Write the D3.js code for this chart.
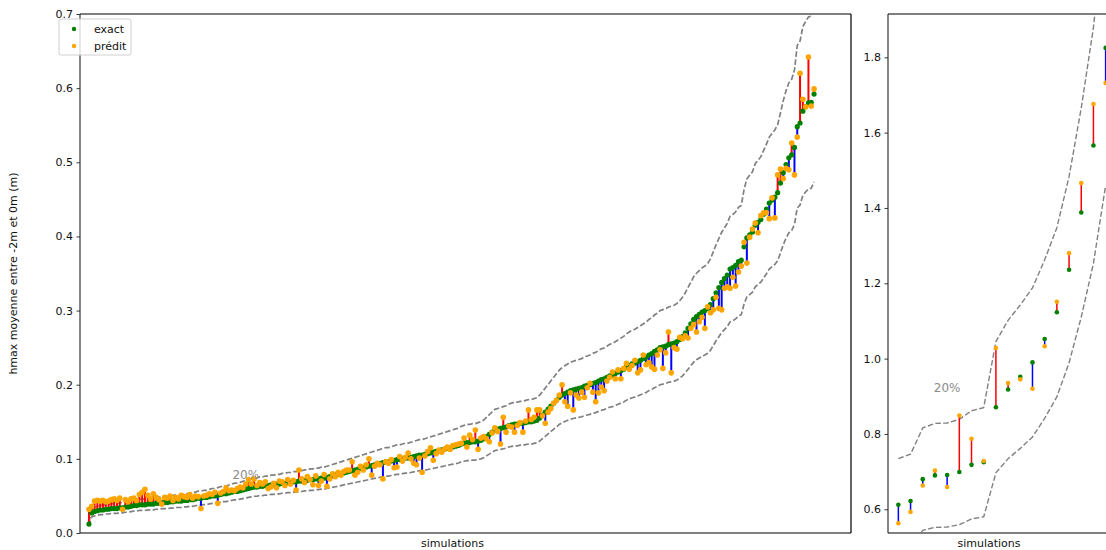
<!DOCTYPE html>
<html>
<head>
<meta charset="utf-8">
<script src="https://cdn.jsdelivr.net/npm/d3@7"></script>
<style>
  html, body { margin: 0; padding: 0; background: #fff; }
  svg { display: block; font-family: "DejaVu Sans", sans-serif; }
</style>
</head>
<body>
<svg id="chart" width="1106" height="550"></svg>
<script>
// Simulations sorted by exact value: main range (left panel)
const exactMain = [
  0.012,0.027,0.029,0.030,
  0.031,0.031,0.032,0.032,0.033,0.033,0.033,0.034,0.034,0.035,0.035,0.036,
  0.037,0.037,0.038,0.038,0.038,0.039,0.039,0.039,0.040,0.040,0.041,0.041,0.041,0.042,0.042,0.043,0.043,0.043,0.044,0.044,0.045,0.045,0.046,0.047,
  0.047,0.048,0.048,0.049,0.050,0.050,0.051,0.052,0.053,0.053,0.054,0.055,0.056,0.056,0.057,0.058,0.059,0.060,0.061,
  0.062,0.062,0.063,0.063,0.064,0.064,0.065,0.065,0.066,0.066,0.067,0.067,0.068,0.068,0.069,0.069,0.070,0.070,0.071,0.071,0.072,0.072,0.073,0.073,0.074,0.074,0.075,0.076,
  0.077,0.078,0.079,0.080,0.081,0.082,0.083,0.084,0.085,0.086,0.087,0.088,0.089,
  0.090,0.091,0.092,0.093,0.094,0.095,0.096,0.096,0.097,0.098,0.099,
  0.099,0.100,0.101,0.101,0.102,0.103,0.104,0.105,0.105,0.106,0.107,0.108,
  0.109,0.110,0.111,0.112,0.113,0.114,0.115,0.116,0.117,0.118,0.120,
  0.121,0.122,0.122,0.123,0.123,0.124,
  0.125,0.127,0.130,0.133,0.136,0.139,
  0.140,0.141,0.142,0.143,0.145,0.146,
  0.147,0.147,0.148,0.148,0.149,0.150,0.150,0.151,0.152,
  0.155,0.159,0.163,0.167,0.171,0.175,0.179,0.183,
  0.186,0.188,0.190,0.192,0.193,0.194,0.195,0.196,0.198,0.199,0.200,0.202,
  0.203,0.205,0.207,0.208,0.210,0.212,0.213,0.215,0.217,0.219,0.221,0.224,
  0.226,0.228,0.229,0.231,0.233,0.235,0.237,0.240,0.242,0.245,0.247,0.250,
  0.251,0.252,0.254,0.255,0.256,0.258,0.261,0.265,0.270,0.276,
  0.282,0.288,0.292,0.295,0.298,0.300,0.303,
  0.308,0.316,0.324,0.331,0.338,
  0.343,0.348,0.356,0.358,0.361,0.366,0.368,
  0.386,0.398,0.402,0.406,0.415,0.419,0.423,0.430,0.437,0.445,0.449,0.453,
  0.459,0.472,0.486,0.497,0.506,0.510,0.520,
  0.548,0.553,0.569,0.575,0.580,0.581,0.592
];

const predMain = [
  0.032,0.036,0.043,0.044,
  0.043,0.044,0.042,0.043,0.045,0.046,0.044,0.047,0.032,0.045,0.042,0.046,
  0.047,0.044,0.052,0.055,0.059,0.051,0.046,0.053,0.048,0.045,0.039,0.048,0.047,0.050,0.044,0.048,0.046,0.051,0.049,0.048,0.052,0.047,0.050,0.049,
  0.033,0.050,0.051,0.053,0.052,0.055,0.040,0.054,0.056,0.061,0.057,0.058,0.057,0.060,0.062,0.061,0.066,0.072,0.066,
  0.073,0.064,0.068,0.066,0.069,0.060,0.062,0.067,0.061,0.070,0.069,0.064,0.072,0.066,0.071,0.058,0.085,0.073,0.068,0.076,0.072,0.065,0.077,0.064,0.070,0.079,0.063,0.073,
  0.080,0.076,0.082,0.078,0.083,0.085,0.085,0.096,0.078,0.082,0.090,0.085,0.092,
  0.100,0.078,0.090,0.094,0.092,0.073,0.096,0.094,0.099,0.088,0.089,
  0.103,0.097,0.102,0.108,0.100,0.094,0.092,0.101,0.082,0.104,0.110,0.115,
  0.098,0.107,0.112,0.109,0.113,0.116,0.113,0.118,0.119,0.120,0.121,
  0.128,0.116,0.132,0.126,0.139,0.113,
  0.128,0.130,0.127,0.123,0.135,0.142,
  0.137,0.120,0.156,0.136,0.144,0.143,
  0.136,0.145,0.149,0.136,0.151,0.166,0.153,0.156,0.166,
  0.166,0.158,0.148,0.163,0.168,0.175,0.179,0.186,
  0.200,0.177,0.171,0.189,0.166,0.186,0.182,0.190,0.183,0.196,0.202,0.190,
  0.177,0.189,0.197,0.192,0.205,0.210,0.217,0.208,0.220,0.208,0.222,0.229,
  0.221,0.226,0.233,0.216,0.220,0.240,0.227,0.230,0.224,0.221,0.240,0.247,
  0.222,0.243,0.271,0.216,0.250,0.248,0.264,0.262,0.266,0.263,
  0.276,0.281,0.271,0.285,0.291,0.276,0.305,
  0.297,0.301,0.318,0.303,0.301,
  0.330,0.332,0.330,0.345,0.333,0.352,0.360,
  0.392,0.364,0.399,0.410,0.418,0.405,0.428,0.432,0.432,0.424,0.452,0.425,
  0.483,0.491,0.478,0.492,0.490,0.526,0.483,
  0.534,0.620,0.585,0.575,0.642,0.576,0.599
];

// Highest simulations (right panel)
const exactHigh = [0.612,0.622,0.680,0.690,0.691,0.699,0.718,0.725,0.871,0.918,0.952,0.990,1.052,1.123,1.236,1.388,1.566,1.825];
const predHigh  = [0.563,0.593,0.663,0.703,0.659,0.849,0.787,0.728,1.028,0.935,0.945,0.920,1.033,1.151,1.280,1.466,1.676,1.732];

const ticksMain = [0.0,0.1,0.2,0.3,0.4,0.5,0.6,0.7];
const ticksHigh = [0.6,0.8,1.0,1.2,1.4,1.6,1.8];
const bandFactor = 0.2;           // ±20 % envelope around the exact value
const seriesNames = ["exact", "prédit"];

const svg = d3.select("#chart");
const defs = svg.append("defs");

function drawPanel(cfg) {
  const { exact, pred, x, y, ticks, clipId, rExact, rPred, lw, dash, dashW, label, labelPos, yTitle } = cfg;
  const [x0, x1] = x.range();
  const [yb, yt] = y.range();

  defs.append("clipPath").attr("id", clipId)
    .append("rect").attr("x", x0).attr("y", yt).attr("width", x1 - x0).attr("height", yb - yt);

  const g = svg.append("g");
  const plot = g.append("g").attr("clip-path", `url(#${clipId})`);

  const idx = d3.range(exact.length);

  // ±20 % dashed envelope
  const upper = d3.line().x(i => x(i)).y(i => y(exact[i] * (1 + bandFactor)));
  const lower = d3.line().x(i => x(i)).y(i => y(exact[i] * (1 - bandFactor)));
  [upper, lower].forEach(fn => {
    plot.append("path").attr("d", fn(idx))
      .attr("fill", "none").attr("stroke", "#808080")
      .attr("stroke-width", dashW).attr("stroke-dasharray", dash);
  });

  // error segments
  plot.selectAll(null).data(idx).join("line")
    .attr("x1", i => x(i)).attr("x2", i => x(i))
    .attr("y1", i => y(exact[i])).attr("y2", i => y(pred[i]))
    .attr("stroke", i => pred[i] > exact[i] ? "red" : "blue")
    .attr("stroke-width", lw);

  plot.selectAll(null).data(idx).join("circle")
    .attr("cx", i => x(i)).attr("cy", i => y(exact[i])).attr("r", rExact)
    .attr("fill", "green");
  plot.selectAll(null).data(idx).join("circle")
    .attr("cx", i => x(i)).attr("cy", i => y(pred[i])).attr("r", rPred)
    .attr("fill", "orange");

  plot.append("text").attr("x", x(labelPos[0])).attr("y", y(labelPos[1]))
    .attr("text-anchor", "middle").attr("dominant-baseline", "central")
    .attr("font-size", 12).attr("fill", "#8c8c8c").text(label);

  // y axis
  const axis = d3.axisLeft(y).tickValues(ticks).tickFormat(d3.format(".1f")).tickSize(3.5).tickPadding(3.5);
  const ag = g.append("g").attr("transform", `translate(${x0},0)`).call(axis);
  ag.select(".domain").remove();
  ag.selectAll("line").attr("stroke", "#222").attr("stroke-width", 0.9);
  ag.selectAll("text").attr("font-size", 11).attr("fill", "#111")
    .attr("font-family", "DejaVu Sans, sans-serif");

  // frame
  g.append("line").attr("x1", x0).attr("x2", x1).attr("y1", yt).attr("y2", yt).attr("stroke", "#555").attr("stroke-width", 1.3);
  g.append("line").attr("x1", x0).attr("x2", x1).attr("y1", yb).attr("y2", yb).attr("stroke", "#555").attr("stroke-width", 1.3);
  g.append("line").attr("x1", x0).attr("x2", x0).attr("y1", yt).attr("y2", yb).attr("stroke", "#222").attr("stroke-width", 1.1);
  g.append("line").attr("x1", x1).attr("x2", x1).attr("y1", yt).attr("y2", yb).attr("stroke", "#111").attr("stroke-width", 1.3);

  g.append("text").attr("x", (x0 + x1) / 2 - 13).attr("y", yb + 14)
    .attr("text-anchor", "middle").attr("font-size", 11).attr("fill", "#111").text("simulations");

  if (yTitle) {
    g.append("text").attr("transform", `translate(${x0 - 63},${(yt + yb) / 2}) rotate(-90)`)
      .attr("text-anchor", "middle").attr("font-size", 11).attr("fill", "#111").text(yTitle);
  }
}

const xMain = d3.scaleLinear().domain([-3.2, 272.2]).range([80, 851]);
const yMain = d3.scaleLinear().domain([0, 0.7]).range([533, 14]);
drawPanel({
  exact: exactMain, pred: predMain, x: xMain, y: yMain, ticks: ticksMain,
  clipId: "clipMain", rExact: 2.6, rPred: 2.8, lw: 2, dash: "5.5,2.4", dashW: 1.7,
  label: "20%", labelPos: [56, 0.078], yTitle: "hmax moyenne entre -2m et 0m (m)"
});

const xHigh = d3.scaleLinear().domain([-0.85, 17.85]).range([888, 1116]);
const yHigh = d3.scaleLinear().domain([0.537, 1.915]).range([533, 14]);
drawPanel({
  exact: exactHigh, pred: predHigh, x: xHigh, y: yHigh, ticks: ticksHigh,
  clipId: "clipHigh", rExact: 2.3, rPred: 2.3, lw: 1.5, dash: "5.5,2.4", dashW: 1.4,
  label: "20%", labelPos: [4, 0.922], yTitle: null
});

// legend
const leg = svg.append("g").attr("transform", "translate(59,19)");
leg.append("rect").attr("width", 72).attr("height", 36).attr("rx", 2)
  .attr("fill", "#fff").attr("fill-opacity", 0.8).attr("stroke", "#d0d0d0");
const legColors = ["green", "orange"];
seriesNames.forEach((name, k) => {
  leg.append("circle").attr("cx", 15).attr("cy", 10 + k * 17).attr("r", 2.2).attr("fill", legColors[k]);
  leg.append("text").attr("x", 35).attr("y", 10 + k * 17).attr("dominant-baseline", "central")
    .attr("font-size", 11).attr("fill", "#111").text(name);
});
</script>
</body>
</html>
